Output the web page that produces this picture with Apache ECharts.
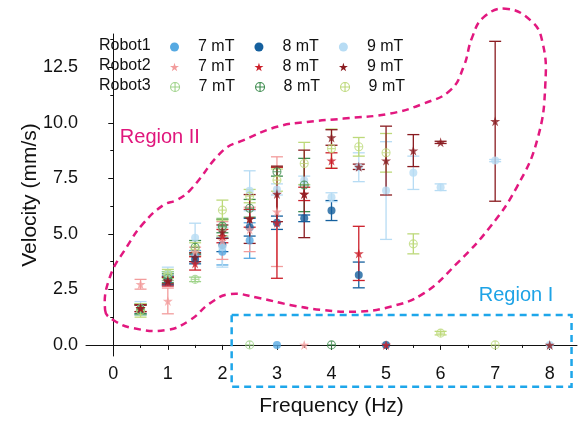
<!DOCTYPE html>
<html>
<head>
<meta charset="utf-8">
<script src="https://cdn.jsdelivr.net/npm/echarts@6/dist/echarts.min.js"></script>
<style>
  html, body { margin: 0; padding: 0; background: #fff; }
  #chart { width: 584px; height: 422px; }
</style>
</head>
<body>
<div id="chart"></div>
<script>
(function () {
  // [frequency (Hz), velocity (mm/s), error]
  const robot1_7mT = [[0.5, 1.6, 0.25], [1, 3.0, 0.3], [1.5, 4.0, 0.25], [2, 4.2, 0.6], [2.5, 4.7, 0.8], [3, 0, 0]];
  const robot1_8mT = [[0.5, 1.6, 0.2], [1, 2.9, 0.2], [1.5, 3.85, 0.2], [2, 4.5, 0.3], [2.5, 5.3, 0.4], [3, 5.5, 0.3], [3.5, 5.7, 0.15], [4, 6.05, 0.45], [4.5, 3.15, 0.58], [5, 0, 0]];
  const robot1_9mT = [[0.5, 1.65, 0.3], [1, 3.2, 0.3], [1.5, 4.83, 0.65], [2, 4.4, 0.9], [2.5, 6.94, 0.9], [3, 7.0, 0.25], [3.5, 7.4, 0.2], [4, 6.65, 0.2], [4.5, 8.0, 0.65], [5, 6.95, 2.2], [5.5, 7.75, 0.75], [6, 7.1, 0.15], [7, 8.3, 0.05], [8, 0, 0]];
  const robot2_7mT = [[0.5, 2.73, 0.22], [1, 1.98, 0.58], [1.5, 4.2, 0.2], [2, 4.7, 0.85], [2.5, 5.2, 1.0], [3, 6.0, 2.47], [3.5, 0, 0]];
  const robot2_8mT = [[0.5, 1.65, 0.15], [1, 2.85, 0.2], [1.5, 3.67, 0.3], [2, 4.9, 0.3], [2.5, 5.7, 0.4], [3, 5.5, 2.5], [3.5, 6.8, 0.3], [4, 8.3, 0.35], [4.5, 4.12, 1.22], [5, 0, 0]];
  const robot2_9mT = [[0.5, 1.65, 0.15], [1, 2.9, 0.15], [1.5, 3.95, 0.2], [2, 5.1, 0.3], [2.5, 5.67, 1.1], [3, 6.8, 1.25], [3.5, 6.8, 1.97], [4, 9.34, 0.35], [4.5, 8.02, 0.12], [5, 8.3, 1.55], [5.5, 8.75, 0.72], [6, 9.12, 0.05], [7, 10.07, 3.6], [8, 0, 0]];
  const robot3_7mT = [[0.5, 1.6, 0.25], [1, 3.1, 0.2], [1.5, 2.95, 0.1], [2, 5.3, 0.4], [2.5, 0, 0]];
  const robot3_8mT = [[0.5, 1.6, 0.2], [1, 3.0, 0.2], [1.5, 4.4, 0.3], [2, 5.35, 0.3], [2.5, 6.15, 0.4], [3, 7.8, 0.2], [3.5, 7.2, 1.2], [4, 0, 0]];
  const robot3_9mT = [[0.5, 1.55, 0.3], [1, 3.2, 0.2], [1.5, 4.3, 0.3], [2, 6.07, 0.45], [2.5, 6.7, 0.3], [3, 7.42, 0.5], [3.5, 8.17, 0.95], [4, 8.84, 0.88], [4.5, 8.92, 0.42], [5, 8.65, 0.87], [5.5, 4.55, 0.45], [6, 0.53, 0.08], [7, 0, 0]];

  const robots = ['Robot1', 'Robot2', 'Robot3'];
  const fields = ['7 mT', '8 mT', '9 mT'];

  const freqTicks = [0, 1, 2, 3, 4, 5, 6, 7, 8];
  const freqMinor = [0.5, 1.5, 2.5, 3.5, 4.5, 5.5, 6.5, 7.5];
  const velTicks = [0, 2.5, 5, 7.5, 10, 12.5];
  const velMinor = [1.25, 3.75, 6.25, 8.75, 11.25, 13.75];

  // outlines drawn in data units
  const region2Outline = [
    [-0.15, 1.57], [0.0, 1.12], [0.37, 0.75], [0.98, 0.67], [1.41, 1.12], [1.77, 1.87],
    [2.14, 2.29], [2.63, 2.13], [3.24, 1.8], [3.85, 1.57], [4.47, 1.5], [5.08, 1.72],
    [5.69, 2.32], [6.3, 3.67], [6.91, 5.32], [7.4, 7.12], [7.77, 9.22], [7.92, 11.77],
    [7.86, 13.71], [7.65, 14.61], [7.19, 15.14], [6.79, 14.76], [6.58, 13.86],
    [6.42, 12.51], [6.18, 11.47], [5.69, 10.87], [5.08, 10.42], [4.22, 10.19],
    [3.55, 10.04], [3.0, 9.82], [2.39, 9.22], [2.02, 8.77], [1.41, 6.97], [1.16, 6.52],
    [0.92, 6.3], [0.55, 5.47], [0.25, 4.42], [-0.06, 3.07]
  ];
  const region1Box = [[2.17, 1.35], [8.4, -1.88]];

  const font = "'Liberation Sans', Arial, sans-serif";
  const starPath = 'path://M50,0 L61,35 L98,35 L68,57 L79,91 L50,70 L21,91 L32,57 L2,35 L39,35 Z';
  const crossCircle = 'path://M10,0 A10,10 0 1,1 9.99,0 Z M0,10 L20,10 M10,0 L10,20';

  const seriesDefs = [
    { name: 'Robot1 7 mT', data: robot1_7mT, color: '#56a9e2', symbol: 'circle', size: 8 },
    { name: 'Robot1 8 mT', data: robot1_8mT, color: '#15609e', symbol: 'circle', size: 8 },
    { name: 'Robot1 9 mT', data: robot1_9mT, color: '#b7dcf4', symbol: 'circle', size: 8 },
    { name: 'Robot3 7 mT', data: robot3_7mT, color: '#9fd38a', symbol: crossCircle, size: 8, hollow: true },
    { name: 'Robot3 8 mT', data: robot3_8mT, color: '#3d8c4e', symbol: crossCircle, size: 8, hollow: true },
    { name: 'Robot3 9 mT', data: robot3_9mT, color: '#bdd97a', symbol: crossCircle, size: 8, hollow: true },
    { name: 'Robot2 7 mT', data: robot2_7mT, color: '#f29c9c', symbol: starPath, size: 10 },
    { name: 'Robot2 8 mT', data: robot2_8mT, color: '#cc1f2a', symbol: starPath, size: 10 },
    { name: 'Robot2 9 mT', data: robot2_9mT, color: '#8a1b20', symbol: starPath, size: 10 }
  ];

  function markerStyle(d) {
    return d.hollow
      ? { color: 'rgba(255,255,255,0)', borderColor: d.color, borderWidth: 1.1 }
      : { color: d.color, borderWidth: 0 };
  }

  function errorBars(color) {
    return function (params, api) {
      const x = api.value(0);
      const y = api.value(1);
      const e = api.value(2);
      if (!e) return;
      const top = api.coord([x, y + e]);
      const bot = api.coord([x, y - e]);
      const w = 6;
      const style = { stroke: color, lineWidth: 1.3 };
      return {
        type: 'group',
        children: [
          { type: 'line', shape: { x1: top[0], y1: top[1], x2: bot[0], y2: bot[1] }, style: style },
          { type: 'line', shape: { x1: top[0] - w, y1: top[1], x2: top[0] + w, y2: top[1] }, style: style },
          { type: 'line', shape: { x1: bot[0] - w, y1: bot[1], x2: bot[0] + w, y2: bot[1] }, style: style }
        ]
      };
    };
  }

  const series = [];
  seriesDefs.forEach(function (d) {
    series.push({
      name: d.name,
      type: 'custom',
      renderItem: errorBars(d.color),
      encode: { x: 0, y: 1 },
      data: d.data,
      itemStyle: { color: d.color },
      silent: true
    });
  });
  seriesDefs.forEach(function (d) {
    series.push({
      name: d.name,
      type: 'scatter',
      symbol: d.symbol,
      symbolSize: d.size,
      data: d.data.map(function (p) { return [p[0], p[1]]; }),
      itemStyle: markerStyle(d),
      emphasis: { disabled: true },
      z: 3
    });
  });

  const legends = robots.map(function (r, i) {
    return {
      data: fields.map(function (f) {
        const def = seriesDefs.find(function (d) { return d.name === r + ' ' + f; });
        return { name: def.name, icon: def.symbol, itemStyle: markerStyle(def) };
      }),
      left: 170,
      top: 39 + i * 20,
      padding: 0,
      itemGap: 20,
      itemWidth: 9,
      itemHeight: 9,
      selectedMode: false,
      formatter: function (name) { return name.split(' ').slice(1).join(' '); },
      textStyle: { fontFamily: font, fontSize: 16, color: '#111', padding: [0, 0, 0, 14] }
    };
  });

  const chart = echarts.init(document.getElementById('chart'));

  const option = {
    animation: false,
    backgroundColor: '#fff',
    textStyle: { fontFamily: font },
    grid: { left: 86, right: 7, top: 34, bottom: 66 },
    legend: legends,
    xAxis: [
      {
        type: 'value',
        min: -0.5,
        max: 8.5,
        name: 'Frequency (Hz)',
        nameLocation: 'middle',
        nameGap: 40,
        nameMoveOverlap: false,
        nameTextStyle: { fontSize: 21, color: '#111', fontFamily: font },
        axisLine: { lineStyle: { color: '#111', width: 1 } },
        axisTick: { customValues: freqTicks, length: 5, lineStyle: { color: '#111' } },
        axisLabel: { customValues: freqTicks, fontSize: 18, color: '#111', margin: 9 },
        splitLine: { show: false }
      },
      {
        type: 'value',
        min: -0.5,
        max: 8.5,
        position: 'bottom',
        axisLine: { show: false },
        axisTick: { customValues: freqMinor, length: 3, lineStyle: { color: '#111' } },
        axisLabel: { show: false },
        splitLine: { show: false }
      }
    ],
    yAxis: [
      {
        type: 'value',
        min: -0.5,
        max: 14,
        name: 'Velocity (mm/s)',
        nameLocation: 'middle',
        nameGap: 45,
        nameMoveOverlap: false,
        nameTextStyle: { fontSize: 21, color: '#111', fontFamily: font },
        axisLine: { show: true, lineStyle: { color: '#111', width: 1 } },
        axisTick: { show: true, customValues: velTicks, length: 5, lineStyle: { color: '#111' } },
        axisLabel: {
          customValues: velTicks, fontSize: 18, color: '#111', margin: 8,
          formatter: function (v) { return v.toFixed(1); }
        },
        splitLine: { show: false }
      },
      {
        type: 'value',
        min: -0.5,
        max: 14,
        position: 'left',
        axisLine: { show: false },
        axisTick: { show: true, customValues: velMinor, length: 3, lineStyle: { color: '#111' } },
        axisLabel: { show: false },
        splitLine: { show: false }
      }
    ],
    series: series
  };

  chart.setOption(option);

  function toPx(p) {
    return chart.convertToPixel({ xAxisIndex: 0, yAxisIndex: 0 }, p);
  }

  const boxA = toPx(region1Box[0]);
  const boxB = toPx(region1Box[1]);

  const graphics = [
    {
      type: 'polygon',
      shape: { points: region2Outline.map(toPx), smooth: 0.45 },
      style: { fill: 'none', stroke: '#e2187f', lineWidth: 2.5, lineDash: [7, 5] },
      silent: true,
      z: 1
    },
    {
      type: 'rect',
      shape: { x: boxA[0], y: boxA[1], width: boxB[0] - boxA[0], height: boxB[1] - boxA[1] },
      style: { fill: 'none', stroke: '#1ea6ea', lineWidth: 2.5, lineDash: [7, 5] },
      silent: true,
      z: 1
    },
    {
      type: 'text',
      x: toPx([0.12, 9.35])[0],
      y: toPx([0.12, 9.35])[1],
      style: { text: 'Region II', fill: '#e0167c', font: '20px ' + font, verticalAlign: 'middle' }
    },
    {
      type: 'text',
      x: toPx([6.7, 2.22])[0],
      y: toPx([6.7, 2.22])[1],
      style: { text: 'Region I', fill: '#1ea3e6', font: '20px ' + font, verticalAlign: 'middle' }
    }
  ];

  robots.forEach(function (r, i) {
    graphics.push({
      type: 'text',
      x: 99,
      y: 46 + i * 20,
      style: { text: r, fill: '#111', font: '16px ' + font, verticalAlign: 'middle' }
    });
  });

  chart.setOption({ graphic: graphics });

  window.addEventListener('resize', function () {
    chart.resize();
  });
})();
</script>
</body>
</html>
